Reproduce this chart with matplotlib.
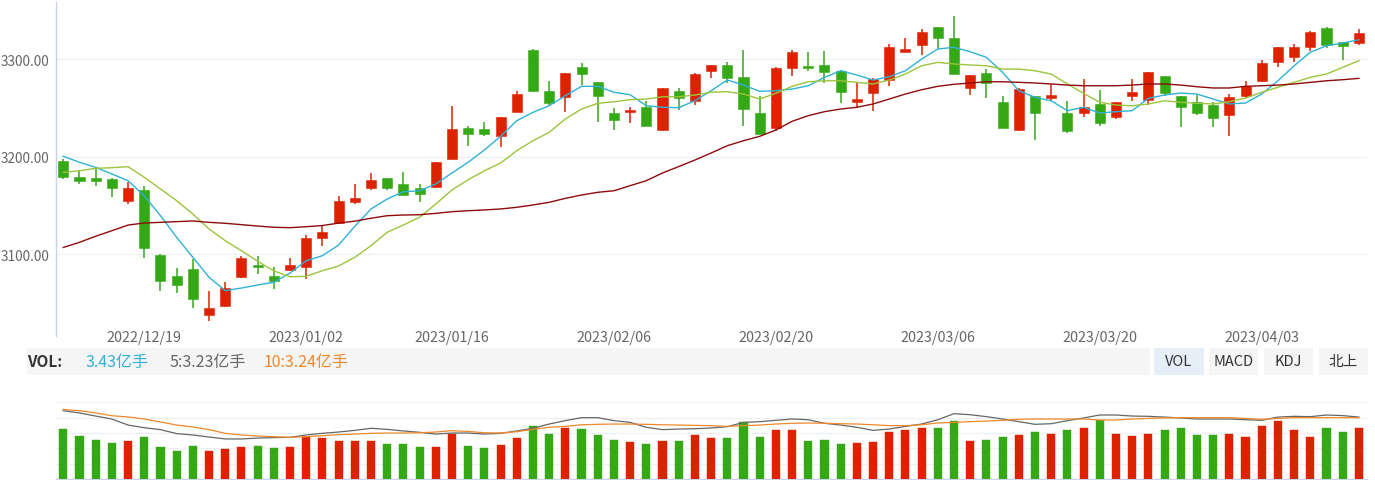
import numpy as np
import matplotlib
matplotlib.use('Agg')
import matplotlib.pyplot as plt
from matplotlib.patches import Rectangle
from matplotlib.transforms import blended_transform_factory

plt.rcParams['font.family'] = ['Noto Sans CJK SC', 'DejaVu Sans']

# daily OHLC, 81 sessions (2022/12/12 .. 2023/04/12)
opens = [3196.0, 3179.6, 3178.3, 3177.2, 3155.0, 3165.6, 3099.3, 3078.0, 3084.9, 3037.8,
         3047.3, 3076.4, 3089.4, 3077.4, 3083.9, 3086.7, 3116.4, 3132.1, 3154.0, 3168.3,
         3178.6, 3172.4, 3168.0, 3169.3, 3197.7, 3229.2, 3228.2, 3221.6, 3246.3, 3309.5,
         3267.2, 3261.6, 3291.8, 3276.4, 3244.6, 3245.6, 3251.4, 3227.5, 3267.2, 3256.9,
         3288.3, 3294.2, 3282.2, 3244.6, 3229.5, 3290.8, 3292.8, 3294.2, 3288.3, 3256.5,
         3265.1, 3278.8, 3307.8, 3314.7, 3332.8, 3321.5, 3270.9, 3286.0, 3256.5, 3227.5,
         3262.0, 3260.0, 3244.6, 3244.6, 3254.2, 3240.5, 3262.7, 3258.3, 3283.2, 3262.0,
         3256.5, 3253.1, 3242.9, 3262.7, 3277.4, 3296.9, 3302.7, 3312.3, 3331.8, 3317.4,
         3316.7]
closes = [3179.0, 3175.5, 3175.5, 3168.3, 3167.7, 3106.2, 3072.9, 3068.5, 3054.2, 3044.6,
          3065.1, 3095.9, 3087.0, 3073.0, 3089.0, 3116.4, 3123.2, 3155.0, 3157.4, 3176.2,
          3168.3, 3161.1, 3162.2, 3195.0, 3228.2, 3223.7, 3223.7, 3241.1, 3264.4, 3267.8,
          3255.2, 3286.0, 3284.9, 3262.7, 3238.0, 3248.3, 3231.9, 3270.3, 3260.3, 3284.9,
          3294.2, 3280.5, 3249.0, 3223.4, 3290.8, 3307.2, 3290.8, 3287.3, 3266.8, 3259.3,
          3279.8, 3312.9, 3310.6, 3328.3, 3321.5, 3284.9, 3283.9, 3275.7, 3229.5, 3269.5,
          3244.9, 3263.4, 3226.2, 3250.8, 3234.4, 3256.2, 3266.2, 3287.0, 3265.4, 3251.4,
          3244.9, 3239.5, 3261.0, 3272.3, 3296.2, 3312.9, 3312.9, 3328.3, 3314.7, 3314.0,
          3327.0]
highs = [3197.5, 3185.7, 3190.0, 3178.6, 3174.5, 3170.4, 3100.3, 3085.6, 3095.2, 3062.0,
         3071.3, 3098.0, 3098.0, 3086.7, 3096.0, 3119.8, 3129.3, 3160.1, 3171.8, 3183.4,
         3178.6, 3184.1, 3171.8, 3195.0, 3251.8, 3231.3, 3235.4, 3241.1, 3267.2, 3310.6,
         3277.7, 3286.0, 3296.2, 3276.4, 3250.4, 3250.8, 3256.9, 3270.3, 3270.6, 3286.0,
         3294.2, 3296.9, 3309.5, 3262.0, 3291.8, 3309.5, 3307.2, 3308.2, 3289.0, 3276.4,
         3280.8, 3315.7, 3321.5, 3331.0, 3332.8, 3344.1, 3283.9, 3290.0, 3262.7, 3270.3,
         3262.0, 3274.7, 3257.5, 3279.8, 3268.5, 3256.2, 3279.8, 3287.0, 3283.2, 3262.0,
         3263.4, 3255.9, 3264.4, 3278.0, 3299.6, 3312.9, 3315.7, 3329.3, 3332.8, 3317.4,
         3331.0]
lows = [3177.0, 3172.0, 3169.8, 3158.8, 3151.6, 3096.5, 3062.0, 3060.6, 3044.6, 3031.3,
        3046.0, 3075.4, 3080.0, 3064.4, 3083.2, 3074.6, 3108.8, 3130.8, 3151.9, 3165.6,
        3166.3, 3161.1, 3154.0, 3168.3, 3197.7, 3211.4, 3221.6, 3210.4, 3246.3, 3266.8,
        3253.4, 3246.3, 3273.6, 3235.4, 3227.2, 3234.4, 3231.3, 3226.2, 3248.3, 3253.4,
        3280.5, 3275.7, 3231.9, 3223.4, 3226.2, 3283.2, 3287.7, 3275.7, 3254.9, 3251.4,
        3247.3, 3272.9, 3307.8, 3304.4, 3310.6, 3284.9, 3263.7, 3260.3, 3229.5, 3226.8,
        3217.5, 3257.5, 3224.4, 3241.1, 3231.9, 3238.8, 3256.9, 3253.4, 3262.0, 3230.9,
        3242.9, 3230.9, 3221.6, 3260.3, 3276.4, 3292.4, 3296.9, 3308.8, 3311.3, 3299.3,
        3315.0]

# moving averages as drawn on the chart
ma5 = [3200.5, 3194.4, 3189.2, 3182.4, 3175.5, 3160.0, 3139.6, 3117.4, 3096.9, 3076.4,
       3062.7, 3065.4, 3068.5, 3071.3, 3080.8, 3093.4, 3098.6, 3109.5, 3128.7, 3146.5,
       3156.7, 3164.2, 3165.2, 3172.1, 3183.4, 3194.4, 3207.0, 3221.0, 3237.0, 3245.6,
       3252.4, 3262.7, 3272.3, 3272.3, 3266.2, 3263.7, 3252.4, 3250.8, 3250.4, 3257.5,
       3267.8, 3278.8, 3273.6, 3267.2, 3267.8, 3269.5, 3272.9, 3281.5, 3288.3, 3283.9,
       3278.8, 3282.2, 3288.3, 3300.3, 3310.6, 3312.3, 3307.8, 3302.0, 3286.7, 3267.8,
       3261.0, 3257.5, 3247.3, 3250.8, 3244.9, 3246.3, 3247.3, 3260.0, 3263.4, 3265.4,
       3264.4, 3259.3, 3254.2, 3255.2, 3264.4, 3278.0, 3293.4, 3307.2, 3314.0, 3316.7,
       3320.1]
ma10 = [3184.0, 3185.7, 3188.2, 3188.8, 3189.9, 3179.0, 3167.0, 3155.0, 3141.3, 3126.0,
        3114.0, 3103.7, 3092.8, 3083.0, 3077.0, 3077.4, 3083.2, 3088.0, 3096.9, 3108.8,
        3122.6, 3130.0, 3138.0, 3151.6, 3166.0, 3176.5, 3185.7, 3193.6, 3206.3, 3216.5,
        3225.1, 3238.8, 3249.0, 3254.9, 3256.5, 3258.6, 3259.3, 3261.6, 3261.6, 3263.4,
        3266.2, 3266.8, 3264.4, 3259.3, 3265.1, 3272.3, 3277.0, 3278.0, 3278.0, 3276.4,
        3274.7, 3278.8, 3284.9, 3293.4, 3296.9, 3295.2, 3294.2, 3293.4, 3290.0, 3290.0,
        3288.3, 3284.9, 3274.7, 3265.1, 3255.9, 3253.1, 3252.4, 3254.2, 3257.5, 3255.9,
        3254.9, 3254.2, 3256.5, 3260.3, 3266.2, 3271.3, 3276.4, 3281.5, 3284.9, 3291.8,
        3298.6]
ma30 = [3107.0, 3112.3, 3118.5, 3124.2, 3130.0, 3132.1, 3132.8, 3133.5, 3134.2, 3132.8,
        3131.8, 3130.4, 3129.0, 3127.7, 3127.3, 3128.3, 3129.5, 3132.0, 3134.0, 3137.0,
        3139.6, 3140.3, 3140.6, 3142.0, 3143.7, 3144.7, 3145.5, 3146.5, 3148.2, 3150.6,
        3153.3, 3157.4, 3160.8, 3163.6, 3165.2, 3170.4, 3175.5, 3183.4, 3190.0, 3196.7,
        3203.9, 3211.4, 3216.5, 3221.0, 3227.5, 3236.4, 3242.2, 3246.3, 3249.0, 3250.8,
        3254.2, 3259.3, 3264.4, 3268.8, 3272.3, 3274.4, 3275.7, 3277.0, 3277.0, 3276.4,
        3275.7, 3274.7, 3273.6, 3272.9, 3272.9, 3272.9, 3273.6, 3274.7, 3274.7, 3273.6,
        3271.9, 3270.6, 3270.6, 3272.3, 3272.9, 3273.6, 3274.7, 3276.4, 3278.0, 3279.1,
        3280.5]

# volume (亿手) and its averages as drawn
volume = [3.38, 2.89, 2.66, 2.44, 2.59, 2.82, 2.19, 1.87, 2.25, 1.87,
          2.03, 2.19, 2.25, 2.10, 2.19, 2.82, 2.75, 2.59, 2.59, 2.59,
          2.35, 2.35, 2.19, 2.19, 3.04, 2.25, 2.10, 2.27, 2.75, 3.59,
          3.04, 3.43, 3.38, 2.98, 2.66, 2.50, 2.35, 2.59, 2.59, 2.98,
          2.75, 2.75, 3.84, 2.82, 3.29, 3.29, 2.57, 2.66, 2.35, 2.44,
          2.50, 3.20, 3.29, 3.43, 3.43, 3.92, 2.57, 2.66, 2.82, 2.98,
          3.20, 3.04, 3.29, 3.43, 3.99, 3.04, 2.89, 3.04, 3.29, 3.43,
          2.98, 2.98, 3.04, 2.82, 3.59, 3.90, 3.29, 2.82, 3.43, 3.20,
          3.43]
vol_ma5 = [4.62, 4.47, 4.26, 4.06, 3.65, 3.47, 3.34, 3.07, 2.98, 2.84,
           2.71, 2.71, 2.77, 2.80, 2.82, 2.98, 3.09, 3.18, 3.29, 3.43,
           3.36, 3.25, 3.16, 3.04, 3.11, 3.11, 3.04, 3.09, 3.25, 3.43,
           3.72, 3.95, 4.15, 4.15, 3.95, 3.83, 3.50, 3.34, 3.38, 3.40,
           3.45, 3.54, 3.83, 3.88, 3.97, 4.06, 4.01, 3.77, 3.65, 3.50,
           3.29, 3.38, 3.56, 3.72, 4.01, 4.42, 4.35, 4.22, 4.06, 3.88,
           3.70, 3.74, 3.95, 4.13, 4.33, 4.33, 4.26, 4.24, 4.19, 4.13,
           4.06, 4.06, 4.06, 4.01, 3.97, 4.19, 4.24, 4.22, 4.33, 4.29,
           4.19]
vol_ma10 = [4.71, 4.62, 4.47, 4.28, 4.20, 4.06, 3.86, 3.65, 3.52, 3.34,
            3.09, 2.98, 2.91, 2.86, 2.82, 2.86, 2.93, 3.00, 3.04, 3.09,
            3.11, 3.11, 3.13, 3.18, 3.27, 3.22, 3.13, 3.11, 3.20, 3.36,
            3.50, 3.56, 3.67, 3.70, 3.72, 3.72, 3.70, 3.67, 3.65, 3.63,
            3.61, 3.56, 3.61, 3.65, 3.72, 3.77, 3.79, 3.77, 3.74, 3.72,
            3.67, 3.61, 3.61, 3.67, 3.79, 3.83, 3.88, 3.92, 3.97, 4.04,
            4.06, 4.06, 4.06, 4.06, 3.99, 3.99, 4.06, 4.10, 4.13, 4.15,
            4.15, 4.15, 4.15, 4.10, 4.04, 4.10, 4.15, 4.15, 4.15, 4.15,
            4.15]

tick_pos = [5, 15, 24, 34, 44, 54, 64, 74]
tick_labels = ['2022/12/19', '2023/01/02', '2023/01/16', '2023/02/06',
               '2023/02/20', '2023/03/06', '2023/03/20', '2023/04/03']
price_ticks = [3100, 3200, 3300]

RED = '#dd2200'
GREEN = '#35a816'
W, H = 1375, 481


def fx(px):
    return px / W


def fy(py):
    return 1 - py / H


fig = plt.figure(figsize=(W / 100, H / 100), dpi=100)

# --- price panel ---
ax = fig.add_axes([fx(56), fy(337), (1367 - 56) / W, (337 - 3) / H])
x = np.arange(len(closes))
o, c, h, l = map(np.array, (opens, closes, highs, lows))
colors = np.where(c >= o, RED, GREEN)

ax.vlines(x, l, h, colors=colors, linewidth=1.1, zorder=2)
body_h = np.maximum(np.abs(c - o), 1.0)
ax.bar(x, body_h, bottom=np.minimum(o, c), width=0.62, color=colors,
       edgecolor=colors, linewidth=0.4, zorder=3)

ax.plot(x, ma5, color='#2fb2d8', lw=1.0, zorder=4)
ax.plot(x, ma10, color='#9cc43c', lw=1.0, zorder=4)
ax.plot(x, ma30, color='#8e0b0b', lw=1.0, zorder=4)

ax.set_xlim(-0.45, 80.5)
ax.set_ylim(3016.2, 3358.8)
ax.set_yticks(price_ticks)
ax.set_yticklabels(['%.2f' % v for v in price_ticks])
ax.tick_params(axis='y', length=0, pad=5, labelsize=9.8, labelcolor='#666666')
ax.set_xticks([])
ax.grid(axis='y', color='#eef0f4', linewidth=1.0)
ax.set_axisbelow(True)
for s in ('top', 'right', 'bottom'):
    ax.spines[s].set_visible(False)
ax.spines['left'].set_color('#c9d1e6')
ax.spines['left'].set_linewidth(1.0)

trans = blended_transform_factory(ax.transData, fig.transFigure)
for p, lab in zip(tick_pos, tick_labels):
    ax.text(p, fy(338), lab, transform=trans, ha='center', va='center',
            fontsize=10.3, color='#666666', clip_on=False)

# --- indicator header strip ---
fig.patches.append(Rectangle((fx(27), fy(376)), (1150 - 27) / W, 27 / H,
                             transform=fig.transFigure, facecolor='#f5f5f5',
                             edgecolor='none', zorder=0))
fig.text(fx(27), fy(362), 'VOL:', fontsize=11, fontweight='bold',
         color='#333333', va='center')
fig.text(fx(85), fy(362), '3.43亿手', fontsize=11.5, color='#2fb2d8', va='center')
fig.text(fx(169), fy(362), '5:3.23亿手', fontsize=11.5, color='#666666', va='center')
fig.text(fx(264), fy(362), '10:3.24亿手', fontsize=11.5, color='#f0872b', va='center')

buttons = [('VOL', 1154, 1204, '#e6eef8'), ('MACD', 1209, 1258, '#f5f5f5'),
           ('KDJ', 1264, 1313, '#f5f5f5'), ('北上', 1319, 1368, '#f5f5f5')]
for lab, x0, x1, bg in buttons:
    fig.patches.append(Rectangle((fx(x0), fy(376)), (x1 - x0) / W, 27 / H,
                                 transform=fig.transFigure, facecolor=bg,
                                 edgecolor='none', zorder=0))
    fig.text(fx((x0 + x1) / 2), fy(362), lab, fontsize=10.5, color='#333333',
             ha='center', va='center')

# --- volume panel ---
vax = fig.add_axes([fx(56), fy(480), (1367 - 56) / W, (480 - 403.3) / H])
v = np.array(volume)
vax.bar(x, v, width=0.5, color=colors, edgecolor=colors, linewidth=0.3, zorder=3)
vax.plot(x, vol_ma5, color='#666666', lw=0.9, zorder=4)
vax.plot(x, vol_ma10, color='#f0872b', lw=0.9, zorder=4)
vax.set_xlim(-0.45, 80.5)
vax.set_ylim(0, 5.19)
vax.set_yticks(np.arange(1, 6) * 1.037)
vax.set_xticks([])
vax.tick_params(axis='y', length=0, labelleft=False)
vax.grid(axis='y', color='#eef0f4', linewidth=1.0)
vax.set_axisbelow(True)
for s in ('top', 'right', 'left'):
    vax.spines[s].set_visible(False)
vax.spines['bottom'].set_color('#c9d3ea')
vax.spines['bottom'].set_linewidth(1.0)

fig.savefig('out.png', dpi=100)
